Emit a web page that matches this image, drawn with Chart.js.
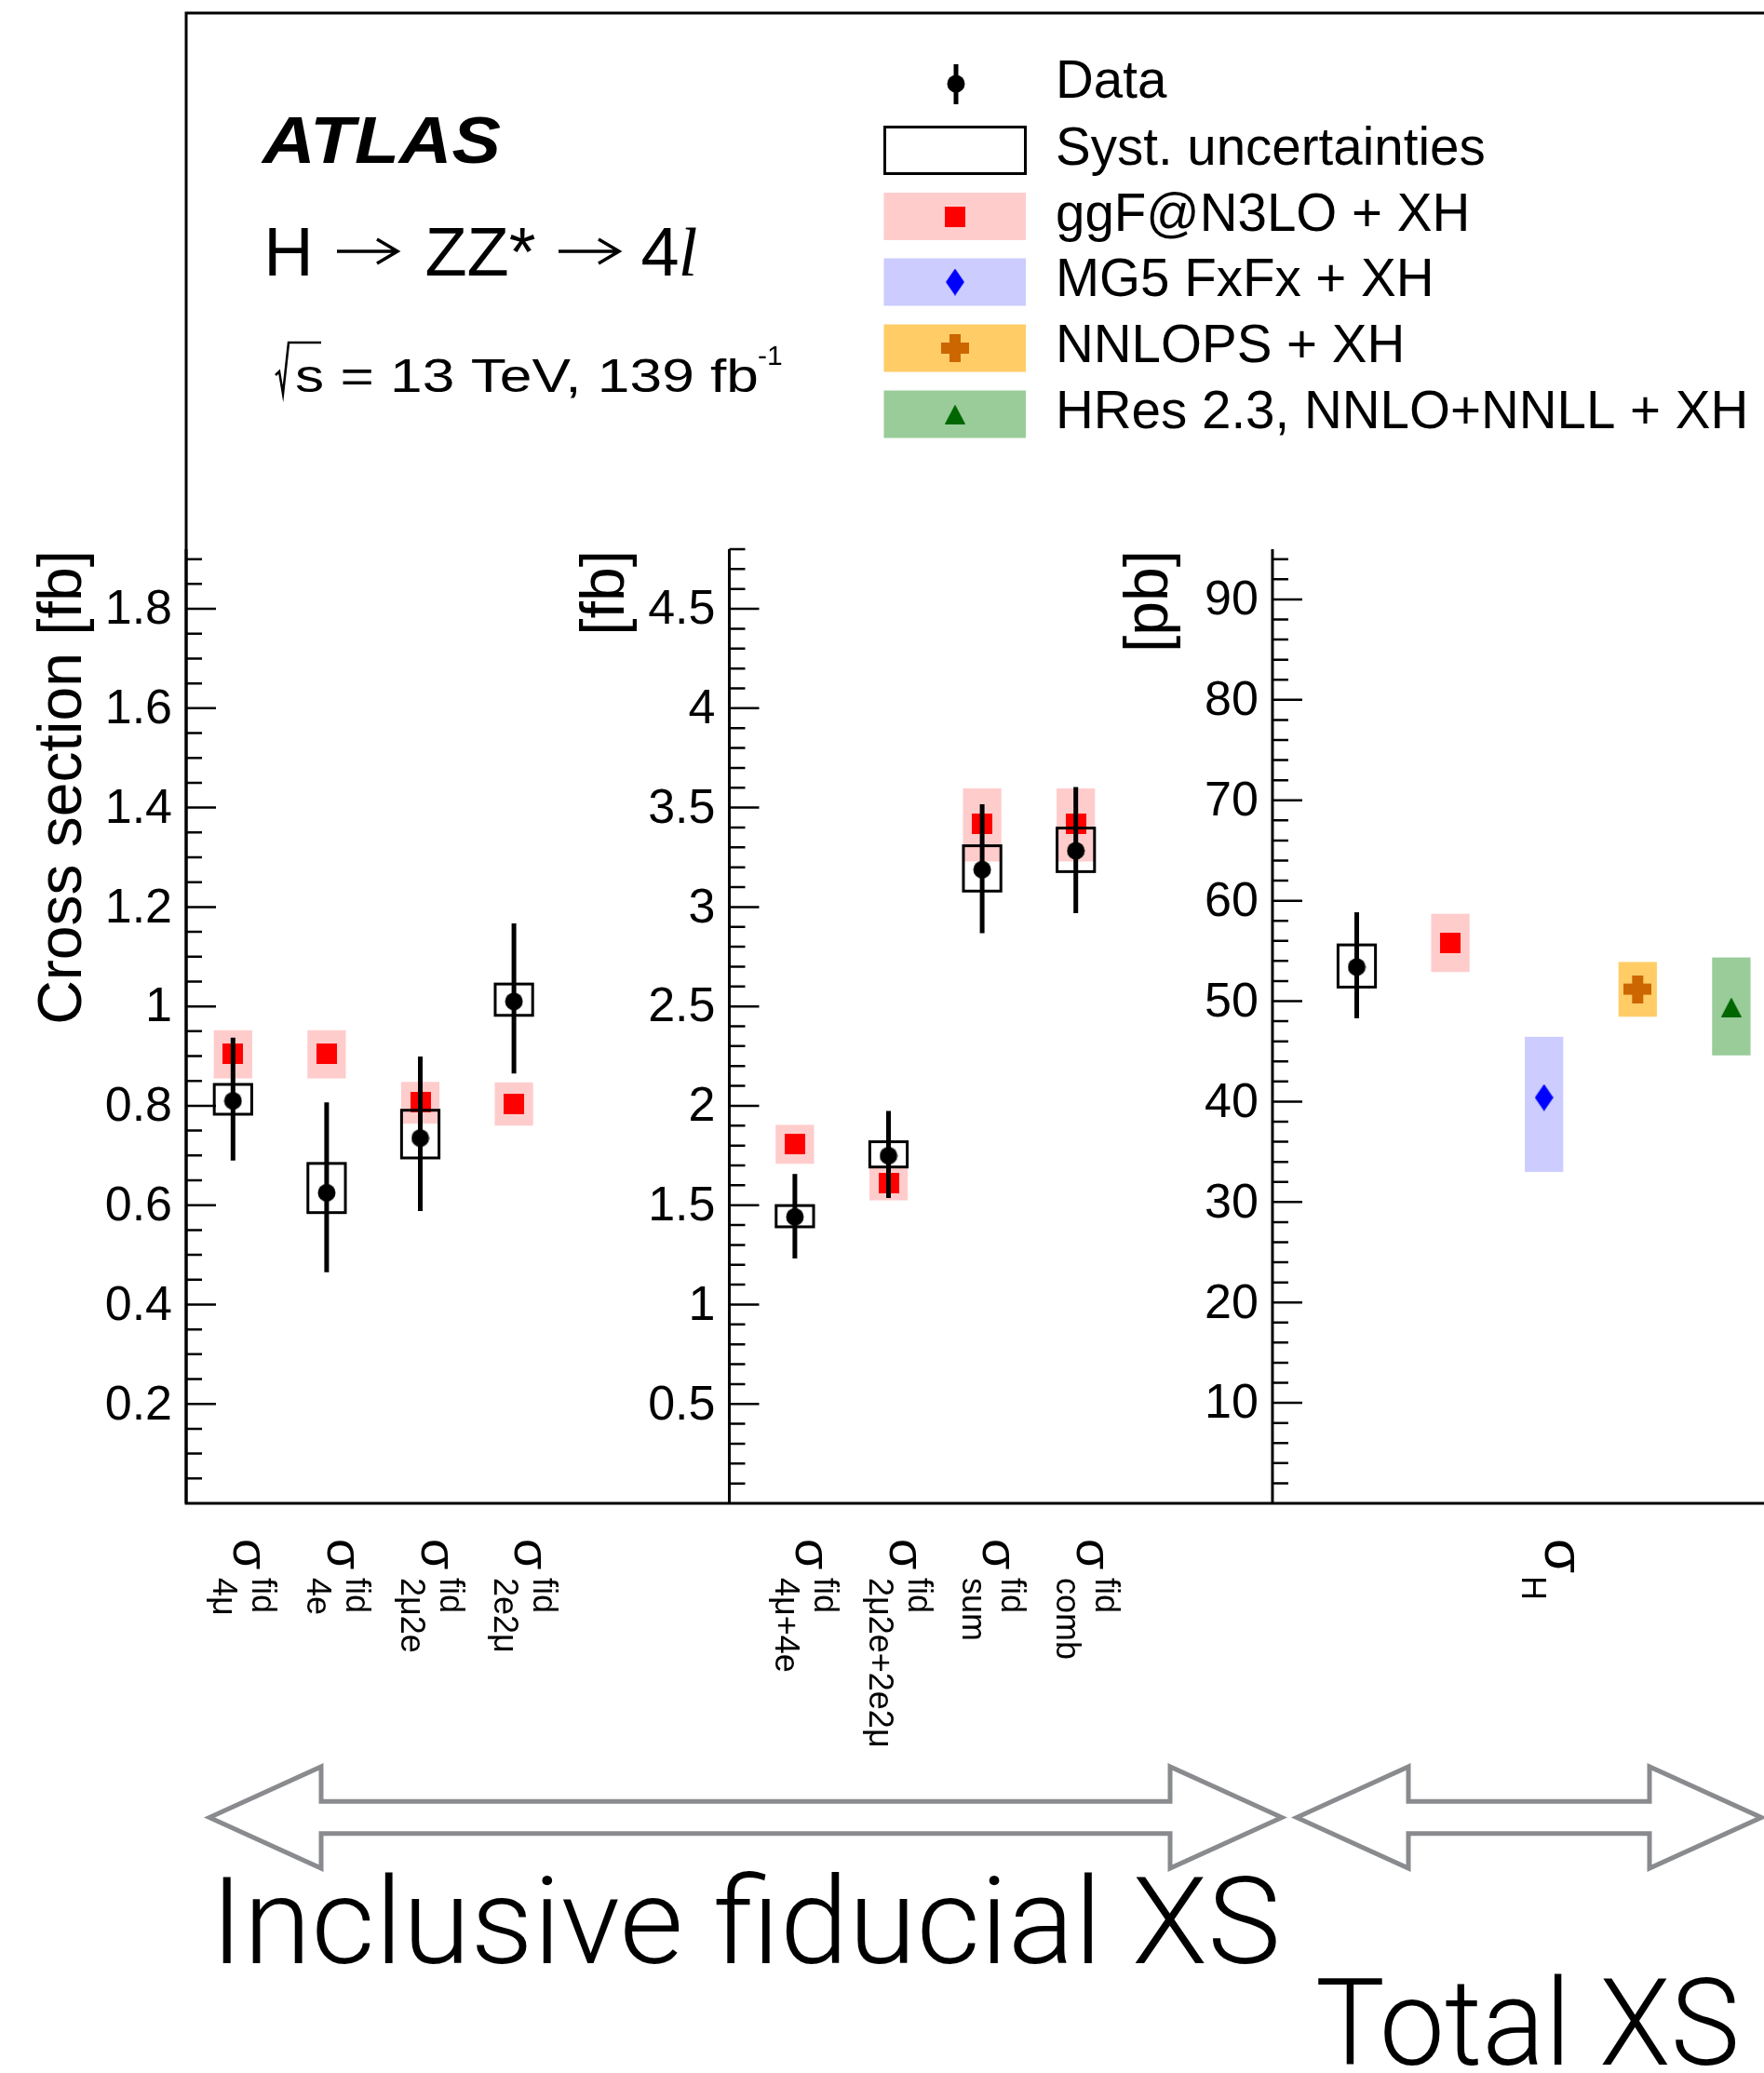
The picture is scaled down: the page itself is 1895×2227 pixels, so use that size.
<!DOCTYPE html>
<html lang="en">
<head>
<meta charset="utf-8">
<title>H → ZZ* → 4l cross sections</title>
<script src="https://cdn.jsdelivr.net/npm/chart.js@4.4.1/dist/chart.umd.min.js"></script>
<style>
    html, body { margin: 0; padding: 0; background: #fff; overflow: hidden; }
    canvas { display: block; }
</style>
</head>
<body>
<canvas id="grafico-secao" width="1895" height="2227"></canvas>
<script>
// Painel 1: canais individuais [fb]
const canais1 = ['4μ', '4e', '2μ2e', '2e2μ'];
const dados1 = [0.81, 0.625, 0.735, 1.01];
const erroBaixo1 = [0.12, 0.16, 0.147, 0.145];
const erroAlto1 = [0.127, 0.182, 0.164, 0.157];
const sistBaixo1 = [0.027, 0.04, 0.04, 0.028];
const sistAlto1 = [0.033, 0.059, 0.056, 0.035];
const ggf1 = [0.904, 0.904, 0.807, 0.803];
const ggfBaixo1 = [0.049, 0.049, 0.043, 0.043];
const ggfAlto1 = [0.048, 0.048, 0.041, 0.044];

// Painel 2: combinações de canais [fb]
const canais2 = ['4μ+4e', '2μ2e+2e2μ', 'sum', 'comb'];
const dados2 = [1.441, 1.749, 3.188, 3.283];
const erroBaixo2 = [0.209, 0.213, 0.32, 0.314];
const erroAlto2 = [0.216, 0.225, 0.329, 0.32];
const sistBaixo2 = [0.05, 0.057, 0.108, 0.105];
const sistAlto2 = [0.057, 0.07, 0.12, 0.114];
const ggf2 = [1.806, 1.609, 3.419, 3.419];
const ggfBaixo2 = [0.098, 0.085, 0.19, 0.19];
const ggfAlto2 = [0.098, 0.086, 0.178, 0.178];

// Painel 3: seção de choque total [pb]
const dadosTotal = [53.4];
const erroBaixoTotal = [5.1];
const erroAltoTotal = [5.45];
const sistBaixoTotal = [2.0];
const sistAltoTotal = [2.2];
const modelos = ['ggF@N3LO + XH', 'MG5 FxFx + XH', 'NNLOPS + XH', 'HRes 2.3, NNLO+NNLL + XH'];
const predTotal = [55.8, 40.4, 51.2, 49.4];
const predBaixoTotal = [2.9, 7.4, 2.75, 4.8];
const predAltoTotal = [2.9, 6.05, 2.7, 4.95];

// Marcas principais dos eixos
const marcas1 = [0.2, 0.4, 0.6, 0.8, 1, 1.2, 1.4, 1.6, 1.8];
const marcas2 = [0.5, 1, 1.5, 2, 2.5, 3, 3.5, 4, 4.5];
const marcas3 = [10, 20, 30, 40, 50, 60, 70, 80, 90];

const FONTE = '"Liberation Sans", Arial, Helvetica, sans-serif';
const CORES_FAIXA = ['#ffcccc', '#ccccff', '#ffcc66', '#99cc99'];
const LARGURA_FAIXA = 0.41;
const LARGURA_CAIXA = 0.40;

const paineis = [
    { eixo: 'y1', inicio: 0, max: 1.92, passo: 0.2, passoMenor: 0.05, marcas: marcas1, titulo: 'Cross section [fb]' },
    { eixo: 'y2', inicio: 5.8, max: 4.8, passo: 0.5, passoMenor: 0.1, marcas: marcas2, titulo: '[fb]' },
    { eixo: 'y3', inicio: 11.6, max: 95, passo: 10, passoMenor: 2, marcas: marcas3, titulo: '[pb]' }
];

function criarSprite(largura, altura, desenhar) {
    const c = document.createElement('canvas');
    c.width = largura;
    c.height = altura;
    desenhar(c.getContext('2d'), largura, altura);
    return c;
}

function poligono(g, pontos, cor) {
    g.fillStyle = cor;
    g.beginPath();
    pontos.forEach(([x, y], i) => (i ? g.lineTo(x, y) : g.moveTo(x, y)));
    g.closePath();
    g.fill();
}

const spriteCirculo = criarSprite(20, 20, g => {
    g.fillStyle = '#000';
    g.beginPath();
    g.arc(10, 10, 9.5, 0, Math.PI * 2);
    g.fill();
});
const spriteQuadrado = criarSprite(22, 22, (g, w, h) => { g.fillStyle = '#ff0000'; g.fillRect(0, 0, w, h); });
const spriteLosango = criarSprite(20, 29, (g, w, h) => poligono(g, [[w / 2, 0], [w, h / 2], [w / 2, h], [0, h / 2]], '#0000ff'));
const spriteCruz = criarSprite(30, 30, g => {
    g.fillStyle = '#cc6600';
    g.fillRect(0, 9, 30, 12);
    g.fillRect(9, 0, 12, 30);
});
const spriteTriangulo = criarSprite(22, 21, (g, w, h) => poligono(g, [[w / 2, 0], [w, h], [0, h]], '#006600'));
const spritesModelos = [spriteQuadrado, spriteLosango, spriteCruz, spriteTriangulo];

function criarConjuntoPrevisao(rotulo, eixo, primeiro, valores, baixo, alto, sprite, corFaixa) {
    return {
        label: rotulo,
        tipo: 'previsao',
        yAxisID: eixo,
        order: 2,
        data: valores.map((v, i) => ({ x: primeiro + i, y: v })),
        faixaBaixo: baixo,
        faixaAlto: alto,
        corFaixa,
        pointStyle: sprite,
        pointRadius: 12,
        pointHoverRadius: 12
    };
}

function criarConjuntoDados(eixo, primeiro, valores, erroBaixo, erroAlto, sistBaixo, sistAlto) {
    return {
        label: 'Data',
        tipo: 'dados',
        yAxisID: eixo,
        order: 1,
        data: valores.map((v, i) => ({ x: primeiro + i, y: v })),
        erroBaixo, erroAlto, sistBaixo, sistAlto,
        pointStyle: spriteCirculo,
        pointRadius: 10,
        pointHoverRadius: 10
    };
}

const conjuntos = [
    criarConjuntoPrevisao(modelos[0], 'y1', 0.5, ggf1, ggfBaixo1, ggfAlto1, spriteQuadrado, CORES_FAIXA[0]),
    criarConjuntoPrevisao(modelos[0], 'y2', 6.5, ggf2, ggfBaixo2, ggfAlto2, spriteQuadrado, CORES_FAIXA[0]),
    ...modelos.map((m, j) => criarConjuntoPrevisao(m, 'y3', 13.5 + j, [predTotal[j]], [predBaixoTotal[j]], [predAltoTotal[j]], spritesModelos[j], CORES_FAIXA[j])),
    criarConjuntoDados('y1', 0.5, dados1, erroBaixo1, erroAlto1, sistBaixo1, sistAlto1),
    criarConjuntoDados('y2', 6.5, dados2, erroBaixo2, erroAlto2, sistBaixo2, sistAlto2),
    criarConjuntoDados('y3', 12.5, dadosTotal, erroBaixoTotal, erroAltoTotal, sistBaixoTotal, sistAltoTotal)
];

function textoAjustado(ctx, texto, x, y, largura) {
    const medida = ctx.measureText(texto).width;
    ctx.save();
    ctx.translate(x, y);
    ctx.scale(largura / medida, 1);
    ctx.fillText(texto, 0, 0);
    ctx.restore();
}

function desenharMoldura(ctx, area) {
    ctx.strokeStyle = '#000';
    ctx.lineWidth = 3;
    ctx.beginPath();
    ctx.moveTo(1895, 14);
    ctx.lineTo(area.left, 14);
    ctx.lineTo(area.left, area.bottom);
    ctx.lineTo(1895, area.bottom);
    ctx.stroke();
}

function desenharEixo(ctx, scales, painel, area) {
    const escY = scales[painel.eixo];
    const x = scales.x.getPixelForValue(painel.inicio);

    ctx.strokeStyle = '#000';
    ctx.lineWidth = 3;
    ctx.beginPath();
    ctx.moveTo(x, area.top);
    ctx.lineTo(x, area.bottom);
    ctx.stroke();

    ctx.lineWidth = 2.5;
    ctx.beginPath();
    for (let k = 1; k * painel.passoMenor <= painel.max + 1e-9; k++) {
        const v = k * painel.passoMenor;
        const r = v / painel.passo;
        const comprimento = Math.abs(r - Math.round(r)) < 1e-6 ? 32 : 17;
        const y = escY.getPixelForValue(v);
        ctx.moveTo(x, y);
        ctx.lineTo(x + comprimento, y);
    }
    ctx.stroke();

    ctx.fillStyle = '#000';
    ctx.font = `52px ${FONTE}`;
    ctx.textAlign = 'right';
    ctx.textBaseline = 'middle';
    painel.marcas.forEach(v => ctx.fillText(String(v), x - 15, escY.getPixelForValue(v) + 2));

    ctx.save();
    ctx.translate(x - 113, 591);
    ctx.rotate(-Math.PI / 2);
    ctx.font = `66px ${FONTE}`;
    ctx.textAlign = 'right';
    ctx.textBaseline = 'alphabetic';
    ctx.fillText(painel.titulo, 0, 0);
    ctx.restore();
}

function desenharRotulo(ctx, x, sup, sub, tamSigma, inicioSub, deslocSub) {
    ctx.save();
    ctx.translate(x + 1, 1653);
    ctx.rotate(Math.PI / 2);
    ctx.fillStyle = '#000';
    ctx.textAlign = 'left';
    ctx.textBaseline = 'alphabetic';
    ctx.font = `${tamSigma}px ${FONTE}`;
    ctx.fillText('σ', 0, 0);
    ctx.font = `36px ${FONTE}`;
    if (sup) ctx.fillText(sup, 42, -20);
    ctx.fillText(sub, inicioSub, deslocSub);
    ctx.restore();
}

function desenharRotulos(ctx, escX) {
    canais1.forEach((c, i) => desenharRotulo(ctx, escX.getPixelForValue(0.5 + i), 'fid', c, 54, 42, 22));
    canais2.forEach((c, i) => desenharRotulo(ctx, escX.getPixelForValue(6.5 + i), 'fid', c, 54, 42, 22));
    desenharRotulo(ctx, escX.getPixelForValue(14.5), '', 'H', 60, 40, 25);
}

function desenharLegenda(ctx) {
    const centros = [90, 161.5, 232.5, 303, 374, 445];
    const rotulos = ['Data', 'Syst. uncertainties', ...modelos];

    ctx.strokeStyle = '#000';
    ctx.lineWidth = 5;
    ctx.beginPath();
    ctx.moveTo(1027, 69);
    ctx.lineTo(1027, 112);
    ctx.stroke();
    ctx.drawImage(spriteCirculo, 1017, 80);

    ctx.lineWidth = 3;
    ctx.strokeRect(950.5, 136.5, 151, 50);

    modelos.forEach((m, j) => {
        const c = centros[j + 2];
        ctx.fillStyle = CORES_FAIXA[j];
        ctx.fillRect(949.5, c - 25.5, 152.5, 51);
        const s = spritesModelos[j];
        ctx.drawImage(s, 1026 - s.width / 2, c - s.height / 2);
    });

    ctx.fillStyle = '#000';
    ctx.font = `56.5px ${FONTE}`;
    ctx.textAlign = 'left';
    ctx.textBaseline = 'alphabetic';
    rotulos.forEach((r, i) => ctx.fillText(r, 1134, centros[i] + 15));
}

function desenharSetaTexto(ctx, x0, x1, y) {
    ctx.beginPath();
    ctx.moveTo(x0, y);
    ctx.lineTo(x1, y);
    ctx.moveTo(x1 - 22, y - 13);
    ctx.lineTo(x1, y);
    ctx.lineTo(x1 - 22, y + 13);
    ctx.stroke();
}

function desenharCabecalho(ctx) {
    ctx.fillStyle = '#000';
    ctx.strokeStyle = '#000';
    ctx.textBaseline = 'alphabetic';
    ctx.textAlign = 'left';

    ctx.font = `italic bold 70px ${FONTE}`;
    textoAjustado(ctx, 'ATLAS', 282, 175, 256);

    ctx.font = `74px ${FONTE}`;
    ctx.textAlign = 'center';
    ctx.fillText('H', 310, 296);
    ctx.fillText('ZZ*', 516, 296);
    ctx.fillText('4', 709, 296);
    ctx.font = 'italic 74px "Liberation Serif", "Times New Roman", serif';
    ctx.fillText('l', 739, 296);
    ctx.lineWidth = 3.5;
    desenharSetaTexto(ctx, 362, 427, 270);
    desenharSetaTexto(ctx, 600, 665, 270);

    ctx.lineWidth = 2.5;
    ctx.beginPath();
    ctx.moveTo(296, 403);
    ctx.lineTo(300, 399);
    ctx.lineTo(304, 423);
    ctx.lineTo(310, 368);
    ctx.lineTo(345, 368);
    ctx.stroke();

    ctx.textAlign = 'left';
    ctx.font = `50px ${FONTE}`;
    textoAjustado(ctx, 's = 13 TeV, 139 fb', 317, 421, 498);
    ctx.font = `30px ${FONTE}`;
    ctx.fillText('-1', 814, 392);
}

function desenharSeta(ctx, xEsq, xDir) {
    const cy = 1952.5, h = 17.3, H = 54.5, L = 120;
    ctx.beginPath();
    ctx.moveTo(xEsq, cy);
    ctx.lineTo(xEsq + L, cy - H);
    ctx.lineTo(xEsq + L, cy - h);
    ctx.lineTo(xDir - L, cy - h);
    ctx.lineTo(xDir - L, cy - H);
    ctx.lineTo(xDir, cy);
    ctx.lineTo(xDir - L, cy + H);
    ctx.lineTo(xDir - L, cy + h);
    ctx.lineTo(xEsq + L, cy + h);
    ctx.lineTo(xEsq + L, cy + H);
    ctx.closePath();
    ctx.stroke();
}

function desenharRodape(ctx) {
    ctx.strokeStyle = '#898b8e';
    ctx.lineWidth = 5;
    ctx.lineJoin = 'miter';
    desenharSeta(ctx, 225, 1377);
    desenharSeta(ctx, 1393, 1892);

    ctx.fillStyle = '#000';
    ctx.textAlign = 'left';
    ctx.textBaseline = 'alphabetic';
    ctx.font = '300 130px Roboto, "Helvetica Neue", "Liberation Sans", sans-serif';
    textoAjustado(ctx, 'Inclusive fiducial XS', 226, 2109, 1150);
    textoAjustado(ctx, 'Total XS', 1413, 2218, 456);
}

const pluginFigura = {
    id: 'figura',
    beforeDatasetsDraw(chart) {
        const { ctx, scales } = chart;
        chart.data.datasets.forEach(ds => {
            if (ds.tipo !== 'previsao') return;
            const escY = scales[ds.yAxisID];
            ctx.fillStyle = ds.corFaixa;
            ds.data.forEach((p, j) => {
                const x0 = scales.x.getPixelForValue(p.x - LARGURA_FAIXA / 2);
                const x1 = scales.x.getPixelForValue(p.x + LARGURA_FAIXA / 2);
                const yTopo = escY.getPixelForValue(p.y + ds.faixaAlto[j]);
                const yBase = escY.getPixelForValue(p.y - ds.faixaBaixo[j]);
                ctx.fillRect(x0, yTopo, x1 - x0, yBase - yTopo);
            });
        });
    },
    beforeDatasetDraw(chart, args) {
        const ds = chart.data.datasets[args.index];
        if (ds.tipo !== 'dados') return;
        const { ctx, scales } = chart;
        const escY = scales[ds.yAxisID];
        ctx.save();
        ctx.strokeStyle = '#000';
        ds.data.forEach((p, j) => {
            const x = scales.x.getPixelForValue(p.x);
            const x0 = scales.x.getPixelForValue(p.x - LARGURA_CAIXA / 2);
            const x1 = scales.x.getPixelForValue(p.x + LARGURA_CAIXA / 2);
            const sTopo = escY.getPixelForValue(p.y + ds.sistAlto[j]);
            const sBase = escY.getPixelForValue(p.y - ds.sistBaixo[j]);
            ctx.lineWidth = 3;
            ctx.strokeRect(x0, sTopo, x1 - x0, sBase - sTopo);

            ctx.lineWidth = 5;
            ctx.beginPath();
            ctx.moveTo(x, escY.getPixelForValue(p.y + ds.erroAlto[j]));
            ctx.lineTo(x, escY.getPixelForValue(p.y - ds.erroBaixo[j]));
            ctx.stroke();
        });
        ctx.restore();
    },
    afterDraw(chart) {
        const { ctx, chartArea: area, scales } = chart;
        ctx.save();
        desenharMoldura(ctx, area);
        paineis.forEach(p => desenharEixo(ctx, scales, p, area));
        desenharRotulos(ctx, scales.x);
        desenharLegenda(ctx);
        desenharCabecalho(ctx);
        desenharRodape(ctx);
        ctx.restore();
    }
};

const escalasY = {};
paineis.forEach(p => {
    escalasY[p.eixo] = { type: 'linear', min: 0, max: p.max, display: false };
});

new Chart(document.getElementById('grafico-secao'), {
    type: 'scatter',
    data: { datasets: conjuntos },
    options: {
        responsive: false,
        animation: false,
        events: [],
        layout: { autoPadding: false, padding: { left: 200, right: 0, top: 590, bottom: 612 } },
        plugins: {
            legend: { display: false },
            tooltip: { enabled: false }
        },
        scales: {
            x: { type: 'linear', min: 0, max: 1695 / 100.6, display: false },
            ...escalasY
        }
    },
    plugins: [pluginFigura]
});
</script>
</body>
</html>
